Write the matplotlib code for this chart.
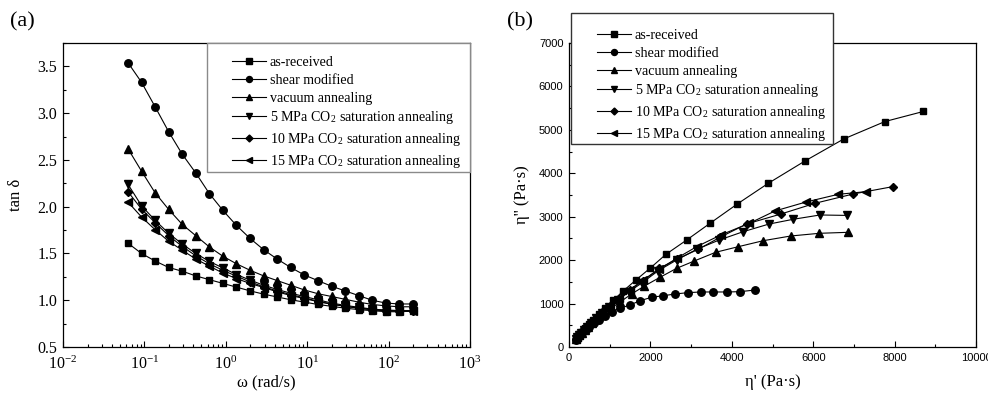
import matplotlib
matplotlib.use("Agg")
import matplotlib.pyplot as plt
from matplotlib.patches import Rectangle
from matplotlib.ticker import MultipleLocator, FixedLocator, LogLocator, NullFormatter

plt.rcParams['font.family'] = ['Liberation Serif', 'DejaVu Serif']
plt.rcParams['mathtext.fontset'] = 'stix'

# ---------------- data ----------------
omega = [0.0628, 0.0922, 0.135, 0.199, 0.292, 0.428, 0.628, 0.922, 1.35, 1.99, 2.92,
         4.28, 6.28, 9.22, 13.5, 19.9, 29.2, 42.8, 62.8, 92.2, 135, 199]

labels = ['as-received', 'shear modified', 'vacuum annealing',
          '5 MPa CO$_\\mathregular{2}$ saturation annealing',
          '10 MPa CO$_\\mathregular{2}$ saturation annealing',
          '15 MPa CO$_\\mathregular{2}$ saturation annealing']

tan_as_received = [1.61, 1.50, 1.42, 1.35, 1.31, 1.26, 1.22, 1.18, 1.14, 1.10, 1.065, 1.035,
                   1.005, 0.98, 0.955, 0.935, 0.915, 0.90, 0.888, 0.878, 0.876, 0.885]
tan_shear = [3.54, 3.33, 3.07, 2.80, 2.56, 2.36, 2.14, 1.96, 1.80, 1.66, 1.54, 1.44,
             1.35, 1.27, 1.21, 1.15, 1.10, 1.05, 1.00, 0.97, 0.96, 0.96]
tan_vacuum = [2.62, 2.38, 2.15, 1.97, 1.81, 1.69, 1.57, 1.47, 1.39, 1.32, 1.26, 1.21,
              1.16, 1.11, 1.07, 1.04, 1.01, 0.98, 0.955, 0.94, 0.93, 0.93]
tan_co2_5 = [2.24, 2.01, 1.855, 1.715, 1.60, 1.50, 1.415, 1.345, 1.275, 1.215, 1.16, 1.115,
             1.075, 1.04, 1.005, 0.97, 0.945, 0.925, 0.905, 0.895, 0.89, 0.89]
tan_co2_10 = [2.16, 1.975, 1.83, 1.69, 1.575, 1.475, 1.39, 1.32, 1.257, 1.196, 1.143, 1.10,
              1.06, 1.025, 0.99, 0.96, 0.935, 0.915, 0.898, 0.888, 0.882, 0.882]
tan_co2_15 = [2.05, 1.89, 1.755, 1.63, 1.535, 1.44, 1.365, 1.29, 1.232, 1.179, 1.136, 1.09,
              1.05, 1.018, 0.985, 0.957, 0.935, 0.915, 0.90, 0.89, 0.885, 0.885]

eta1_as_received = [8706, 7764, 6750, 5799, 4897, 4135, 3464, 2892, 2383, 1990, 1638, 1335,
                    1089, 890, 725, 590, 480, 390, 315, 255, 205, 160]
eta2_as_received = [5423, 5192, 4790, 4284, 3770, 3293, 2848, 2464, 2135, 1812, 1538, 1292,
                    1077, 908, 759, 631, 525, 433, 355, 290, 234, 181]
eta1_shear = [4577, 4201, 3875, 3545, 3236, 2916, 2604, 2317, 2032, 1744, 1499, 1253,
              1049, 880, 735, 610, 500, 410, 330, 265, 210, 165]
eta2_shear = [1313, 1274, 1267, 1267, 1267, 1251, 1220, 1181, 1145, 1066, 967, 891,
              813, 720, 630, 545, 465, 395, 335, 275, 220, 172]
eta1_vacuum = [6863, 6150, 5447, 4774, 4160, 3604, 3079, 2646, 2236, 1851, 1540, 1253,
               1030, 845, 695, 570, 470, 385, 315, 255, 205, 165]
eta2_vacuum = [2641, 2618, 2556, 2448, 2310, 2181, 1981, 1812, 1605, 1403, 1222, 1036,
               888, 761, 650, 548, 465, 393, 330, 271, 220, 177]
eta1_co2_5 = [6823, 6167, 5511, 4909, 4283, 3693, 3137, 2646, 2194, 1800, 1480, 1210,
              990, 810, 665, 545, 445, 365, 300, 245, 200, 160]
eta2_co2_5 = [3030, 3040, 2941, 2830, 2656, 2464, 2250, 2004, 1757, 1481, 1276, 1085,
              921, 779, 662, 562, 471, 395, 331, 274, 225, 180]
eta1_co2_10 = [7953, 6986, 6044, 5209, 4366, 3710, 3177, 2646, 2219, 1830, 1500, 1225,
               1000, 815, 665, 545, 445, 365, 300, 245, 200, 160]
eta2_co2_10 = [3692, 3524, 3309, 3063, 2833, 2526, 2250, 2020, 1812, 1530, 1312, 1114,
               943, 795, 672, 568, 476, 399, 334, 276, 227, 181]
eta1_co2_15 = [7297, 6617, 5823, 5061, 4430, 3727, 3137, 2646, 2219, 1830, 1500, 1225,
               1000, 815, 665, 545, 445, 365, 300, 245, 200, 160]
eta2_co2_15 = [3577, 3516, 3339, 3132, 2848, 2579, 2310, 2043, 1789, 1552, 1320, 1124,
               952, 801, 675, 569, 476, 399, 333, 275, 226, 181]

left_xticks = [1e-2, 1e-1, 1e0, 1e1, 1e2, 1e3]
left_xticklabels = ['$\\mathregular{10^{-2}}$', '$\\mathregular{10^{-1}}$', '$\\mathregular{10^{0}}$',
                    '$\\mathregular{10^{1}}$', '$\\mathregular{10^{2}}$', '$\\mathregular{10^{3}}$']
left_yticks = [0.5, 1.0, 1.5, 2.0, 2.5, 3.0, 3.5]
right_xticks = [0, 2000, 4000, 6000, 8000, 10000]
right_yticks = [0, 1000, 2000, 3000, 4000, 5000, 6000, 7000]

markers = ['s', 'o', '^', 'v', 'D', '<']
msizes = [4.6, 5.4, 5.6, 5.6, 4.4, 5.6]

tans = [tan_as_received, tan_shear, tan_vacuum, tan_co2_5, tan_co2_10, tan_co2_15]
eta1s = [eta1_as_received, eta1_shear, eta1_vacuum, eta1_co2_5, eta1_co2_10, eta1_co2_15]
eta2s = [eta2_as_received, eta2_shear, eta2_vacuum, eta2_co2_5, eta2_co2_10, eta2_co2_15]

# ---------------- figure ----------------
W, H = 988, 394
fig = plt.figure(figsize=(W / 100, H / 100), dpi=100)


def fr(x0, y0, x1, y1):
    return [x0 / W, 1 - y1 / H, (x1 - x0) / W, (y1 - y0) / H]


axL = fig.add_axes(fr(63, 43, 470, 347))
axR = fig.add_axes(fr(569, 43, 976, 347))

for ax in (axL, axR):
    for s in ax.spines.values():
        s.set_linewidth(0.9)
    ax.tick_params(which='both', direction='in', top=False, right=False, width=0.8)
    ax.tick_params(which='major', length=4)
    ax.tick_params(which='minor', length=2)

# left panel
linesL = []
for t, m, ms, lab in zip(tans, markers, msizes, labels):
    ln, = axL.plot(omega, t, color='black', lw=0.8, marker=m, ms=ms, mfc='black',
                   mec='black', label=lab)
    linesL.append(ln)
axL.set_xscale('log')
axL.set_xlim(1e-2, 1e3)
axL.set_ylim(0.5, 3.75)
axL.xaxis.set_major_locator(FixedLocator(left_xticks))
axL.set_xticklabels(left_xticklabels)
axL.xaxis.set_minor_locator(LogLocator(base=10, subs=range(2, 10), numticks=20))
axL.xaxis.set_minor_formatter(NullFormatter())
axL.yaxis.set_major_locator(FixedLocator(left_yticks))
axL.set_yticklabels(['%.1f' % v for v in left_yticks])
axL.yaxis.set_minor_locator(MultipleLocator(0.25))
axL.tick_params(axis='y', which='major', labelsize=11.5, pad=4)
axL.tick_params(axis='x', which='major', labelsize=11.5, pad=6)
axL.set_xlabel('ω (rad/s)', fontsize=12, labelpad=1)
axL.set_ylabel('tan δ', fontsize=12, labelpad=10)

# right panel
linesR = []
for e1, e2, m, ms, lab in zip(eta1s, eta2s, markers, msizes, labels):
    ln, = axR.plot(e1, e2, color='black', lw=0.8, marker=m, ms=ms, mfc='black',
                   mec='black', label=lab)
    linesR.append(ln)
axR.set_xlim(0, 10000)
axR.set_ylim(0, 7000)
axR.xaxis.set_major_locator(FixedLocator(right_xticks))
axR.xaxis.set_minor_locator(MultipleLocator(1000))
axR.yaxis.set_major_locator(FixedLocator(right_yticks))
axR.yaxis.set_minor_locator(MultipleLocator(500))
axR.set_xticklabels([str(v) for v in right_xticks], family=['Liberation Sans'], fontsize=8)
axR.set_yticklabels([str(v) for v in right_yticks], family=['Liberation Sans'], fontsize=8)
axR.tick_params(axis='both', which='major', pad=4)
axR.set_xlabel("η' (Pa·s)", fontsize=12, labelpad=8)
axR.set_ylabel("η'' (Pa·s)", fontsize=12, labelpad=6)


# legend frames (drawn in figure pixels) and legends without their own frame
def add_frame(x0, y0, x1, y1, ec):
    r = Rectangle((x0 / W, 1 - y1 / H), (x1 - x0) / W, (y1 - y0) / H,
                  transform=fig.transFigure, facecolor='white', edgecolor=ec,
                  lw=1.0, zorder=4)
    fig.add_artist(r)


add_frame(207, 43, 470, 172, '#8a8a8a')
add_frame(571, 13, 833, 144, '#333333')

legkw = dict(loc='upper left', fontsize=10.1, frameon=False, handlelength=2.4,
             handletextpad=0.3, labelspacing=0.34, borderpad=0, borderaxespad=0,
             markerscale=0.8)
legL = fig.legend(linesL, labels, bbox_to_anchor=(232 / W, 1 - 56 / H), **legkw)
legL.set_zorder(6)
legR = fig.legend(linesR, labels, bbox_to_anchor=(597 / W, 1 - 29 / H), **legkw)
legR.set_zorder(6)

fig.text(10 / W, 1 - 22 / H, '(a)', fontsize=16, va='center', ha='left')
fig.text(507 / W, 1 - 22 / H, '(b)', fontsize=16, va='center', ha='left')

fig.savefig('out.png', dpi=100)
